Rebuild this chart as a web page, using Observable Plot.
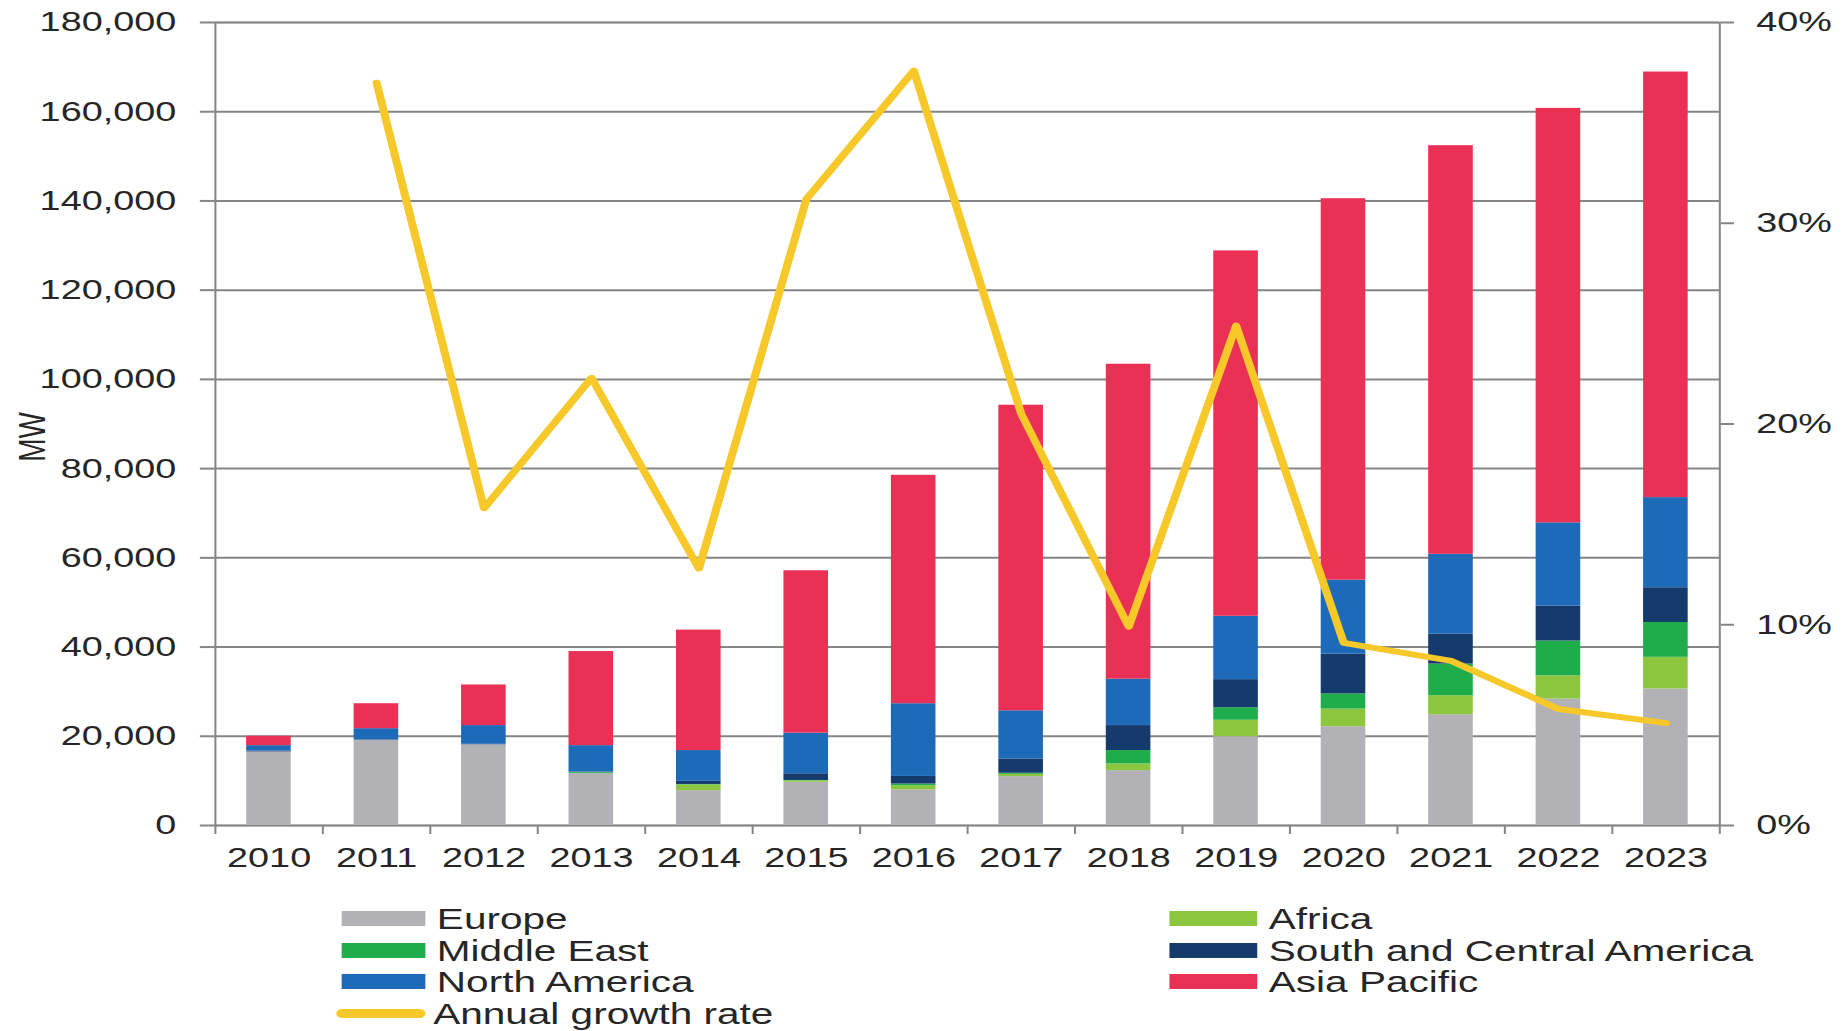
<!DOCTYPE html>
<html>
<head>
<meta charset="utf-8">
<script src="https://cdn.jsdelivr.net/npm/d3@7"></script>
<script src="https://cdn.jsdelivr.net/npm/@observablehq/plot@0.6"></script>
<style>
  html, body { margin: 0; padding: 0; background: #fff; overflow: hidden; }
  #chart svg { display: block; }
  #legend {
    position: relative; width: 1364px; height: 136px;
    transform: scaleX(1.3504); transform-origin: 0 0;
    font-family: "Liberation Sans", Arial, sans-serif; font-size: 30px; color: #262626;
  }
  .item { position: absolute; height: 31.5px; line-height: 31.5px; white-space: nowrap; display: flex; align-items: center; }
  .sw { display: inline-block; height: 15px; margin-right: 9px; }
</style>
</head>
<body>
<div id="chart"></div>
<div id="legend"></div>
<script>
// ---- data ----
const years = ["2010","2011","2012","2013","2014","2015","2016","2017","2018","2019","2020","2021","2022","2023"];
const series = ["Europe", "Africa", "Middle East", "South and Central America", "North America", "Asia Pacific"];
const colors = ["#b2b2b6", "#8cc63e", "#1fad4c", "#143b6c", "#1d6bb8", "#eb3056"];

const europe       = [16500, 19100, 18100, 11700,  7800,  9700,  8000, 10960, 12300, 19900, 22150, 24840, 28350, 30600];
const africa       = [    0,     0,     0,     0,  1300,   300,   900,   500,  1500,  3700,  3950,  4250,  5200,  7100];
const middleEast   = [    0,     0,     0,   200,   100,   100,   400,   250,  3000,  2800,  3400,  7100,  7800,  7800];
const southCentral = [  200,   100,   100,   100,   700,  1500,  1700,  3200,  5600,  6300,  8900,  6700,  7800,  7800];
const northAmerica = [ 1200,  2500,  4200,  5900,  6900,  9100, 16300, 10800, 10400, 14200, 16600, 17900, 18700, 20200];
const asiaPacific  = [ 2100,  5600,  9100, 21100, 27000, 36400, 51200, 68500, 70600, 81900, 85500, 91600, 92900, 95400];

const growthYears = ["2011","2012","2013","2014","2015","2016","2017","2018","2019","2020","2021","2022","2023"];
const growthRate  = [37.0, 15.8, 22.3, 12.8, 31.2, 37.6, 20.5, 9.9, 24.9, 9.1, 8.2, 5.8, 5.1];

const mwTicks  = [0, 20000, 40000, 60000, 80000, 100000, 120000, 140000, 160000, 180000];
const pctTicks = [0, 10, 20, 30, 40];

// ---- build tables ----
const seriesValues = [europe, africa, middleEast, southCentral, northAmerica, asiaPacific];
const stacked = [];
years.forEach((yr, i) => {
  series.forEach((s, j) => stacked.push({year: yr, region: s, value: seriesValues[j][i]}));
});
const K = 180000 / 40; // MW per percentage point (right axis mapping)
const growth = growthYears.map((yr, i) => ({year: yr, rate: growthRate[i]}));

// ---- layout ----
const W = 1364, S = 1842 / W, H = 895;
const mL = 159, mR = 91, mT = 22, mB = 70;
const step = (W - mL - mR) / years.length;
const grid = "#858585";

const svg = Plot.plot({
  width: W, height: H,
  marginTop: mT, marginBottom: mB, marginLeft: mL, marginRight: mR,
  style: {fontFamily: "Liberation Sans, Arial, sans-serif", fontSize: "28px", color: "#262626", background: "#fff"},
  x: {domain: years, paddingInner: 0.585, paddingOuter: 0.2925, round: false, axis: null, label: null},
  y: {domain: [0, 180000], axis: null, label: null},
  color: {domain: series, range: colors},
  marks: [
    Plot.frame({stroke: grid, strokeWidth: 1.5}),
    Plot.ruleY(mwTicks, {stroke: grid, strokeWidth: 2}),
    Plot.axisY({ticks: mwTicks, tickFormat: d3.format(","), tickSize: 11, tickPadding: 18, stroke: grid, strokeWidth: 2, label: null, fontSize: 28}),
    Plot.axisY({anchor: "right", ticks: pctTicks.map(p => p * K), tickFormat: d => Math.round(d / K) + "%", tickSize: 10, tickPadding: 17, stroke: grid, strokeWidth: 2, label: null, fontSize: 28}),
    Plot.axisX({tickSize: 9, tickFormat: () => "", dx: -step / 2, stroke: grid, strokeWidth: 1.5, label: null}),
    Plot.axisX({ticks: [years[years.length - 1]], tickSize: 9, tickFormat: () => "", dx: step / 2, stroke: grid, strokeWidth: 1.5, label: null}),
    Plot.axisX({tickSize: 0, tickPadding: 22, label: null, fontSize: 28}),
    Plot.barY(stacked, {x: "year", y: "value", fill: "region", order: series}),
    Plot.line(growth, {x: "year", y: d => d.rate * K, stroke: "#f6c82a", strokeWidth: 6}),
    Plot.text(["MW"], {frameAnchor: "left", dx: -135, dy: 13, rotate: -90, textAnchor: "middle", fontSize: 28, fill: "#262626"})
  ]
});

// the reference picture is stretched horizontally; stretch the drawing the same way
svg.setAttribute("width", 1842);
svg.setAttribute("height", H);
svg.setAttribute("preserveAspectRatio", "none");
svg.style.width = "1842px";
svg.style.height = H + "px";
svg.style.maxWidth = "none";
document.getElementById("chart").appendChild(svg);

// ---- legend (HTML, below the svg) ----
const legendItems = [
  {label: "Europe", color: colors[0], left: 252.5, row: 0, w: 62},
  {label: "Africa", color: colors[1], left: 865.6, row: 0, w: 65},
  {label: "Middle East", color: colors[2], left: 252.5, row: 1, w: 62},
  {label: "South and Central America", color: colors[3], left: 865.6, row: 1, w: 65},
  {label: "North America", color: colors[4], left: 252.5, row: 2, w: 62},
  {label: "Asia Pacific", color: colors[5], left: 865.6, row: 2, w: 65},
  {label: "Annual growth rate", color: "#f6c82a", left: 248.8, row: 3, w: 66, line: true}
];
const legend = document.getElementById("legend");
legendItems.forEach(it => {
  const d = document.createElement("div");
  d.className = "item";
  d.style.left = it.left + "px";
  d.style.top = (8 + it.row * 31.5) + "px";
  const sw = document.createElement("span");
  sw.className = "sw";
  sw.style.width = it.w + "px";
  sw.style.background = it.color;
  if (it.line) { sw.style.height = "9px"; sw.style.borderRadius = "5px"; sw.style.marginRight = "6px"; }
  const t = document.createElement("span");
  t.textContent = it.label;
  d.appendChild(sw); d.appendChild(t);
  legend.appendChild(d);
});
</script>
</body>
</html>
